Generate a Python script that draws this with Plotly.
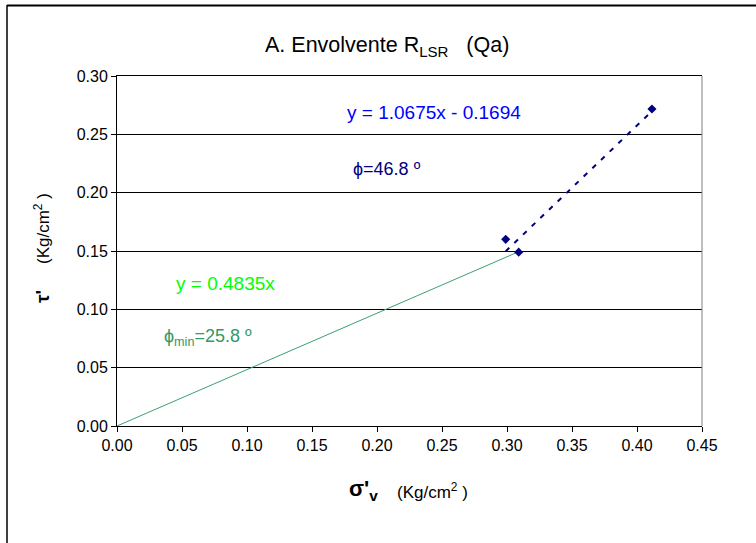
import plotly.graph_objects as go

# Data
sigma_v = [0.299, 0.309, 0.4115]
tau = [0.160, 0.149, 0.2717]
trend_slope = 1.0675
trend_icpt = -0.1694
env_slope = 0.4835
x_ticks = [0.00, 0.05, 0.10, 0.15, 0.20, 0.25, 0.30, 0.35, 0.40, 0.45]
y_ticks = [0.00, 0.05, 0.10, 0.15, 0.20, 0.25, 0.30]

W, H = 756, 543
L, R, T, B = 117, 54, 76, 117
PW, PH = W - L - R, H - T - B

def px(xp):
    return (xp - L) / PW

def py(yp):
    return (H - B - yp) / PH

fig = go.Figure()

# envelope line through origin
x_env = [0.0, sigma_v[1]]
fig.add_trace(go.Scatter(x=x_env, y=[env_slope * v for v in x_env], mode="lines",
                         line=dict(color="#3CA070", width=1), hoverinfo="skip", showlegend=False))

# linear trendline
x_tr = [min(sigma_v), max(sigma_v)]
fig.add_trace(go.Scatter(x=x_tr, y=[trend_slope * v + trend_icpt for v in x_tr], mode="lines",
                         line=dict(color="#000080", width=2, dash="5px,7px"), hoverinfo="skip",
                         showlegend=False))

# data points
fig.add_trace(go.Scatter(x=sigma_v, y=tau, mode="markers",
                         marker=dict(symbol="diamond", size=7, color="#000080"),
                         showlegend=False))

font = "Liberation Sans, Arial, sans-serif"

fig.update_layout(
    width=W, height=H,
    margin=dict(l=L, r=R, t=T, b=B),
    paper_bgcolor="white", plot_bgcolor="white",
    font=dict(family=font, size=16, color="black"),
    xaxis=dict(range=[0, 0.45], tickvals=x_ticks, ticktext=[f"{v:.2f}" for v in x_ticks],
               showgrid=False, zeroline=False, showline=True, linecolor="black", linewidth=1,
               mirror=True, ticks="outside", ticklen=5, tickcolor="black",
               tickfont=dict(size=16)),
    yaxis=dict(range=[0, 0.30], tickvals=y_ticks, ticktext=[f"{v:.2f}" for v in y_ticks],
               showgrid=True, gridcolor="black", gridwidth=1, zeroline=False, showline=True,
               linecolor="black", linewidth=1, ticks="outside", ticklen=5, tickcolor="black",
               tickfont=dict(size=16)),
)

shapes = [
    # right frame side (gray)
    dict(type="line", xref="paper", yref="paper", x0=1, x1=1, y0=0, y1=1,
         line=dict(color="#808080", width=1)),
    # outer chart border (left and top sides visible)
    dict(type="line", xref="paper", yref="paper", x0=px(7), x1=px(7), y0=py(5), y1=py(560),
         line=dict(color="black", width=1.5)),
    dict(type="line", xref="paper", yref="paper", x0=px(7), x1=px(770), y0=py(5.5), y1=py(5.5),
         line=dict(color="black", width=2)),
]
fig.update_layout(shapes=shapes)

ann = []
def add(text, xp, yp, color="black", size=13, angle=0, xanchor="center"):
    ann.append(dict(text=text, x=px(xp), y=py(yp), xref="paper", yref="paper", showarrow=False,
                    font=dict(family=font, size=size, color=color), textangle=angle,
                    xanchor=xanchor, yanchor="middle"))

add("A. Envolvente R<sub>LSR</sub>   (Qa)", 387, 47, size=21.5)
add("y = 1.0675x - 0.1694", 434, 112, color="#0000FF", size=19)
add("ϕ=46.8 º", 387, 169, color="#000080", size=18)
add("y = 0.4835x", 225, 283, color="#00FF00", size=19)
add("ϕ<sub>min</sub>=25.8 º", 208, 337, color="#339966", size=18)
add("<b>σ'<sub>v</sub></b>", 363, 490, size=22)
add("(Kg/cm<sup>2</sup> )", 432, 491, size=17)
add("<b>τ'</b>", 42, 297, size=19, angle=-90)
add("(Kg/cm<sup>2</sup> )", 42, 229, size=17, angle=-90)
fig.update_layout(annotations=ann)

fig.write_html("out.html", config={"displayModeBar": False},
               post_script="document.body.style.margin='0';")
